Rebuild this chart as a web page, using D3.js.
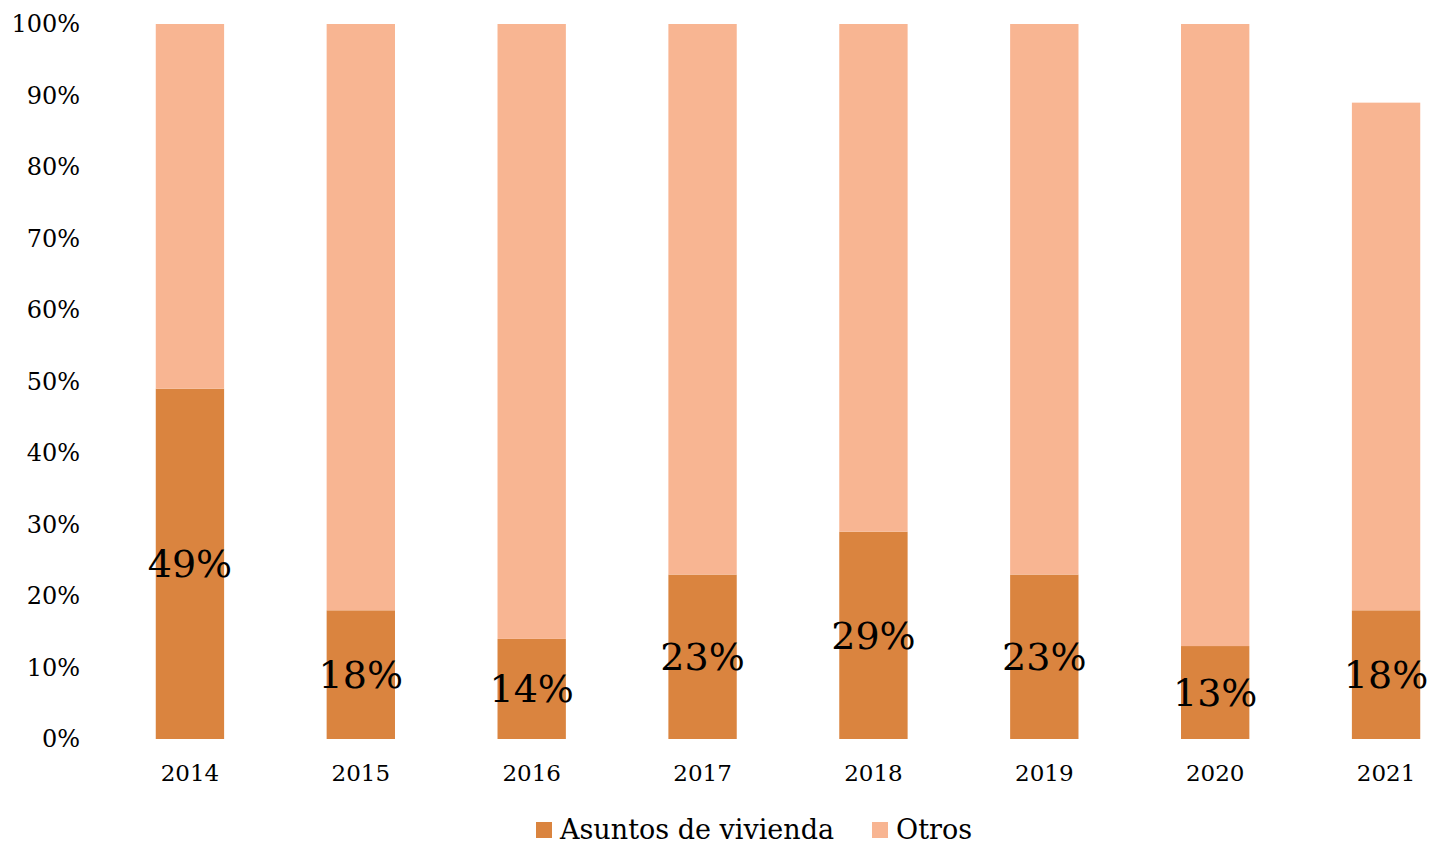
<!DOCTYPE html>
<html>
<head>
<meta charset="utf-8">
<script src="https://cdn.jsdelivr.net/npm/d3@7"></script>
<style>
  body { margin: 0; background: #fff; }
  text { font-family: "DejaVu Serif", "Liberation Serif", serif; fill: #000; }
</style>
</head>
<body>
<svg id="chart" width="1430" height="844"></svg>
<script>
// data
var years = ["2014", "2015", "2016", "2017", "2018", "2019", "2020", "2021"];
var vivienda = [0.49, 0.18, 0.14, 0.23, 0.29, 0.23, 0.13, 0.18];
var otros = [0.51, 0.82, 0.86, 0.77, 0.71, 0.77, 0.87, 0.71];
var yTicks = [0, 0.1, 0.2, 0.3, 0.4, 0.5, 0.6, 0.7, 0.8, 0.9, 1];
var seriesNames = ["Asuntos de vivienda", "Otros"];
var colors = ["#DA843F", "#F8B592"];

var svg = d3.select("#chart");

var x = d3.scaleBand()
  .domain(years)
  .range([104.5, 1471.5])
  .paddingInner(0.6)
  .paddingOuter(0.3);

var y = d3.scaleLinear()
  .domain([0, 1])
  .range([739, 24]);

// stack the two series
var rows = years.map(function(yr, i) {
  return { year: yr, viv: vivienda[i], otr: otros[i] };
});
var stacked = d3.stack().keys(["viv", "otr"])(rows);

svg.append("g")
  .selectAll("g")
  .data(stacked)
  .enter()
  .append("g")
    .attr("fill", function(d, i) { return colors[i]; })
  .selectAll("rect")
  .data(function(d) { return d; })
  .enter()
  .append("rect")
    .attr("x", function(d) { return x(d.data.year); })
    .attr("y", function(d) { return y(d[1]); })
    .attr("width", x.bandwidth())
    .attr("height", function(d) { return y(d[0]) - y(d[1]); });

// y axis, labels only
var yAxis = d3.axisLeft(y)
  .tickValues(yTicks)
  .tickFormat(d3.format(".0%"))
  .tickSize(0)
  .tickPadding(0);
var gy = svg.append("g")
  .attr("transform", "translate(80,0)")
  .call(yAxis);
gy.select(".domain").remove();
gy.selectAll("text")
  .attr("font-size", "24px")
  .attr("font-family", null)
  .attr("fill", null);

// x axis, labels only
var xAxis = d3.axisBottom(x).tickSize(0).tickPadding(0);
var gx = svg.append("g")
  .attr("transform", "translate(0,765)")
  .call(xAxis);
gx.select(".domain").remove();
gx.selectAll("text")
  .attr("font-size", "23px")
  .attr("font-family", null)
  .attr("fill", null)
  .attr("dy", "0.71em");

// data labels for vivienda, centred in the segment
svg.append("g")
  .selectAll("text")
  .data(stacked[0])
  .enter()
  .append("text")
    .attr("x", function(d) { return x(d.data.year) + x.bandwidth() / 2; })
    .attr("y", function(d) { return (y(d[0]) + y(d[1])) / 2; })
    .attr("dy", "0.35em")
    .attr("text-anchor", "middle")
    .attr("font-size", "38px")
    .text(function(d) { return d3.format(".0%")(d[1] - d[0]); });

// legend
var legendX = [536, 872];
var legend = svg.append("g")
  .selectAll("g")
  .data(seriesNames)
  .enter()
  .append("g")
    .attr("transform", function(d, i) { return "translate(" + legendX[i] + ",822)"; });
legend.append("rect")
  .attr("width", 16)
  .attr("height", 16)
  .attr("fill", function(d, i) { return colors[i]; });
legend.append("text")
  .attr("x", 24)
  .attr("y", 8)
  .attr("dy", "0.35em")
  .attr("font-size", "27px")
  .text(function(d) { return d; });
</script>
</body>
</html>
